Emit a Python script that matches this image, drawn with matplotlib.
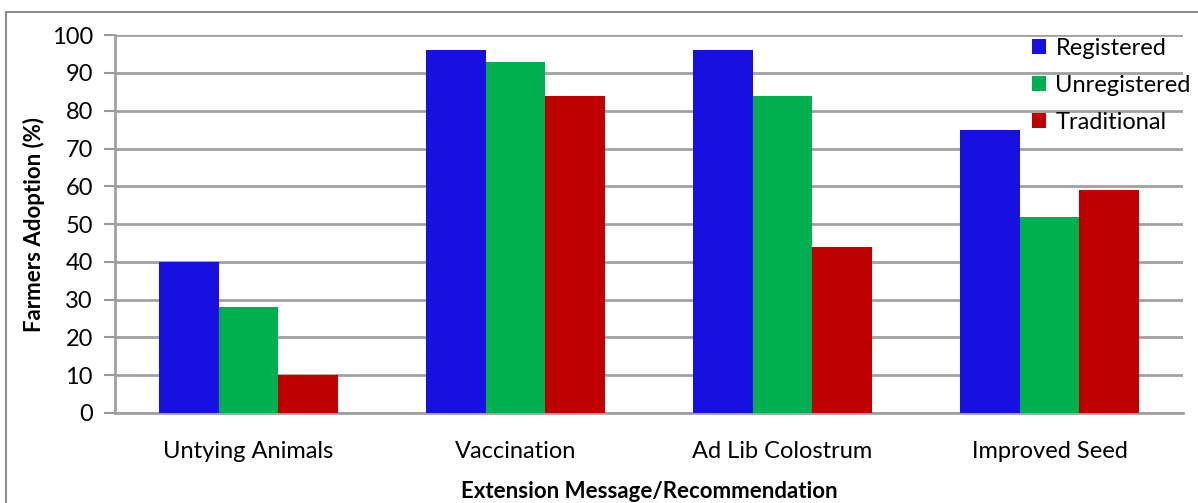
import numpy as np
import matplotlib
matplotlib.use("Agg")
from matplotlib import pyplot as plt
from matplotlib.patches import Rectangle

categories = ['Untying Animals', 'Vaccination', 'Ad Lib Colostrum', 'Improved Seed']
registered = [40, 96, 96, 75]
unregistered = [28, 93, 84, 52]
traditional = [10, 84, 44, 59]
series_names = ['Registered', 'Unregistered', 'Traditional']
colors = ['#1610E0', '#00B050', '#C00000']

plt.rcParams['font.family'] = ['Lato', 'DejaVu Sans']

fig = plt.figure(figsize=(11.98, 5.03), dpi=100)
ax = fig.add_axes([0.096, 0.179, 0.8915, 0.751])

x = np.arange(len(categories))
w = 0.223
for i, (vals, name) in enumerate(zip([registered, unregistered, traditional], series_names)):
    ax.bar(x + (i - 1) * w, vals, width=w, color=colors[i], label=name, zorder=3)

ax.set_xlim(-0.5, len(categories) - 0.5)
ax.set_ylim(0, 100)
ax.set_yticks(range(0, 101, 10))
ax.set_xticks(x)
ax.set_xticklabels(categories, fontsize=17)
ax.tick_params(axis='y', labelsize=17, length=8, color='#999999', width=1.5, pad=8)
ax.tick_params(axis='x', length=0, pad=20)
ax.yaxis.grid(True, color='#A0A0A0', linewidth=2, zorder=0)
for s in ['top', 'right']:
    ax.spines[s].set_visible(False)
for s in ['left', 'bottom']:
    ax.spines[s].set_color('#A0A0A0')
    ax.spines[s].set_linewidth(2)

ax.set_ylabel('Farmers Adoption (%)', fontsize=16, fontweight='bold', labelpad=5)
ax.set_xlabel('Extension Message/Recommendation', fontsize=16, fontweight='bold', labelpad=14)

ax.legend(loc='upper left', bbox_to_anchor=(1020 / 1198, 1 - 26 / 503), bbox_transform=fig.transFigure,
          frameon=False, fontsize=17, handlelength=0.6, handleheight=0.6, handletextpad=0.4,
          labelspacing=0.68, borderpad=0)

fig.patches.append(Rectangle((6 / 1198, -0.1), 1.1, 1.1 - 12 / 503, transform=fig.transFigure,
                             fill=False, edgecolor='#8C8C8C', linewidth=1.5))

fig.savefig('out.png', dpi=100)
